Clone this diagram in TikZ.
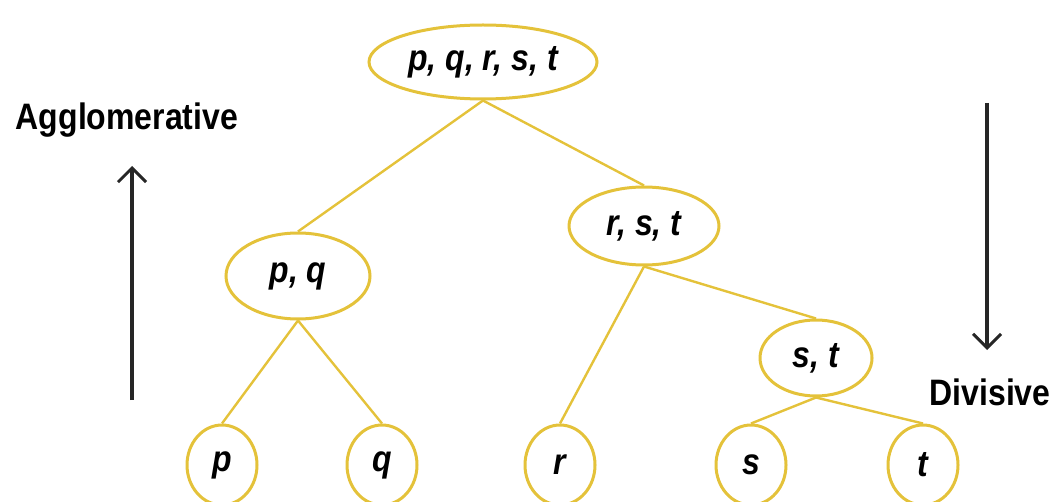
\documentclass[tikz,border=0pt]{standalone}
\usepackage{fontspec}
\setmainfont{Liberation Sans}
\usetikzlibrary{shapes.geometric,arrows.meta}
\definecolor{gold}{RGB}{228,194,58}
\tikzset{
  cl/.style={draw=gold, line width=3pt, ellipse, inner sep=0pt,
    font=\fontsize{32}{32}\selectfont\bfseries\itshape},
  edge/.style={draw=gold, line width=2.4pt},
  dir/.style={line width=3.2pt, draw=black!85, -{Straight Barb[length=14pt,width=28pt,line width=3pt]}},
  lab/.style={font=\fontsize{32}{32}\selectfont\bfseries, inner sep=0pt}
}
\begin{document}
\begin{tikzpicture}[x=1pt,y=-1pt]
\useasboundingbox (0,0) rectangle (1056,502);
\node[cl, minimum width=228pt, minimum height=74pt] (root) at (483,62) {\scalebox{1}[1.15]{p, q, r, s, t}};
\node[cl, minimum width=144pt, minimum height=86pt] (pq) at (298,276) {\scalebox{1}[1.15]{p, q}};
\node[cl, minimum width=150pt, minimum height=78pt] (rst) at (644,226) {\scalebox{1}[1.15]{r, s, t}};
\node[cl, minimum width=112pt, minimum height=76pt] (st) at (816,358) {\scalebox{1}[1.15]{s, t}};
\node[cl, minimum width=70pt, minimum height=80pt] (p) at (222,465) {\scalebox{1}[1.15]{p}};
\node[cl, minimum width=70pt, minimum height=80pt] (q) at (382,465) {\scalebox{1}[1.15]{q}};
\node[cl, minimum width=70pt, minimum height=80pt] (r) at (560,465) {\scalebox{1}[1.15]{r}};
\node[cl, minimum width=70pt, minimum height=80pt] (s) at (751,465) {\scalebox{1}[1.15]{s}};
\node[cl, minimum width=70pt, minimum height=80pt] (t) at (923,465) {\scalebox{1}[1.15]{t}};
\draw[edge] (root.south) -- (pq.north);
\draw[edge] (root.south) -- (rst.north);
\draw[edge] (pq.south) -- (p.north);
\draw[edge] (pq.south) -- (q.north);
\draw[edge] (rst.south) -- (r.north);
\draw[edge] (rst.south) -- (st.north);
\draw[edge] (st.south) -- (s.north);
\draw[edge] (st.south) -- (t.north);
\node[lab] (agg) at (127,120) {\scalebox{1}[1.15]{Agglomerative}};
\node[lab] (div) at (990,392) {\scalebox{1}[1.15]{Divisive}};
\coordinate (a0) at (132,400);
\coordinate (a1) at (132,166);
\coordinate (d0) at (987,103);
\coordinate (d1) at (987,350);
\draw[dir] (a0) -- (a1);
\draw[dir] (d0) -- (d1);
\end{tikzpicture}
\end{document}
